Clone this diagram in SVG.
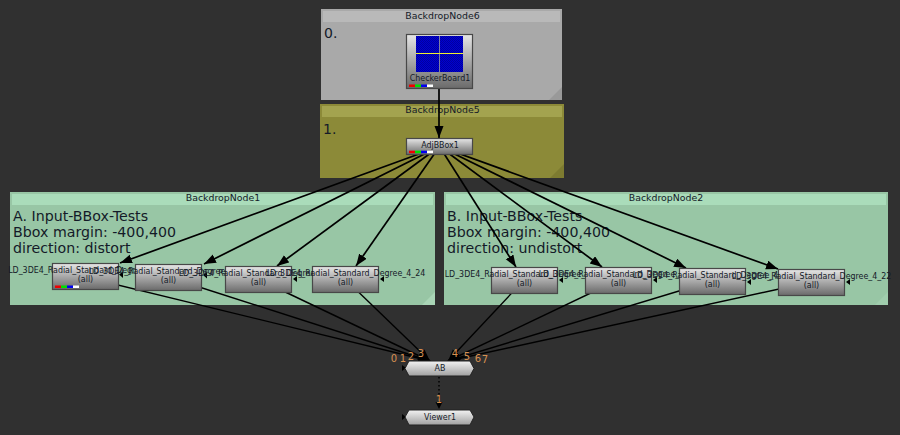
<svg xmlns="http://www.w3.org/2000/svg" width="900" height="435" viewBox="0 0 900 435">
<style>
text{font-family:"DejaVu Sans",sans-serif;fill:#141a28;text-anchor:middle}
.h{font-size:9.4px}
.t{font-family:"DejaVu Sans Condensed","DejaVu Sans",sans-serif;font-stretch:condensed;font-size:8.8px}
.b{font-size:14.2px;text-anchor:start}
.n{fill:url(#g);stroke:#484848;stroke-width:1.2}
.e{stroke:#000;stroke-width:1.7;fill:none;marker-end:url(#a)}
.o{stroke-width:1.4}
text.i{font-size:10px;fill:#d89050}
.m{fill:#000}
</style>
<defs>
<linearGradient id="g" x1="0" y1="0" x2="0" y2="1"><stop offset="0" stop-color="#e6e6e6"/><stop offset="1" stop-color="#6a6a6a"/></linearGradient>
<linearGradient id="v" x1="0" y1="0" x2="0" y2="1"><stop offset="0" stop-color="#f2f2f2"/><stop offset="1" stop-color="#a0a0a0"/></linearGradient>
<pattern id="c" width="2" height="2" patternUnits="userSpaceOnUse"><rect width="2" height="2" fill="#0000d0"/><rect width="1" height="1" fill="#0000a0"/><rect x="1" y="1" width="1" height="1" fill="#0000a0"/></pattern>
<marker id="a" markerUnits="userSpaceOnUse" markerWidth="13" markerHeight="10" refX="12" refY="4.500" orient="auto"><path d="M0 0L12 4.500L0 9Z" fill="#000"/></marker>
<g id="sw"><rect width="6" height="2.5" fill="#f00000"/><rect x="6" width="6" height="2.5" fill="#00e000"/><rect x="12" width="6" height="2.5" fill="#0000f0"/><rect x="18" width="6" height="2.5" fill="#fff"/></g>
</defs>
<rect width="900" height="435" fill="#303030"/>

<g id="BackdropNode6"><rect x="321" y="9" width="241" height="91" fill="#a9a9a9"/><rect x="323" y="11" width="237" height="11" fill="#b9b9b9"/><path d="M562 87V100H549Z" fill="#999"/><text class="h" x="442.500" y="18.500">BackdropNode6</text><text x="324" y="38" style="font-size:14px;text-anchor:start">0.</text></g>
<g id="BackdropNode5"><rect x="320" y="104" width="244" height="74" fill="#8c8a38"/><rect x="322" y="106" width="240" height="11" fill="#a3a34f"/><path d="M564 164V178H550Z" fill="#7d7b30"/><text class="h" x="442.500" y="113">BackdropNode5</text><text x="323" y="134" style="font-size:14px;text-anchor:start">1.</text></g>
<g id="BackdropNode1"><rect x="10" y="192" width="425" height="113" fill="#98c6a5"/><rect x="12" y="194" width="421" height="11" fill="#aadcba"/><path d="M435 292V305H422Z" fill="#a9d5b6"/><text class="h" x="223" y="201">BackdropNode1</text><text class="b" x="13" y="221">A. Input-BBox-Tests</text><text class="b" x="13" y="237">Bbox margin: -400,400</text><text class="b" x="13" y="253">direction: distort</text></g>
<g id="BackdropNode2"><rect x="444" y="192" width="444" height="113" fill="#98c6a5"/><rect x="446" y="194" width="440" height="11" fill="#aadcba"/><path d="M888 292V305H875Z" fill="#a0cdad"/><text class="h" x="666" y="201">BackdropNode2</text><text class="b" x="447" y="221">B. Input-BBox-Tests</text><text class="b" x="447" y="237">Bbox margin: -400,400</text><text class="b" x="447" y="253">direction: undistort</text></g>

<g id="connectors">
<path class="e" d="M439 89V138"/>
<path class="e" d="M439.500 146.500L120 263"/>
<path class="e" d="M439.500 146.500L204 264"/>
<path class="e" d="M439.500 146.500L277 266"/>
<path class="e" d="M439.500 146.500L356 266"/>
<path class="e" d="M439.500 146.500L516 267"/>
<path class="e" d="M439.500 146.500L602 267"/>
<path class="e" d="M439.500 146.500L686 268"/>
<path class="e" d="M439.500 146.500L778 269"/>
<path class="e o" d="M85 277L430 361"/>
<path class="e o" d="M168 277L430 361"/>
<path class="e o" d="M258 279L430 361"/>
<path class="e o" d="M345 279L430 361"/>
<path class="e o" d="M524 280L448 361"/>
<path class="e o" d="M618 280L448 361"/>
<path class="e o" d="M712 281L448 361"/>
<path class="e o" d="M811 282L448 361"/>
<path d="M439 377V405" stroke="#000" stroke-width="1.500" stroke-dasharray="1.500 2.500" fill="none"/>
<path class="m" d="M435.500 402H442.500L439 409Z"/>
<path class="m" d="M119 274.500L123 271.500V278Z"/>
<path class="m" d="M203 275L207 272V278.500Z"/>
<path class="m" d="M293 279L297 276V282Z"/>
<path class="m" d="M380 279L384 276V282Z"/>
<path class="m" d="M559 280L563 277V283Z"/>
<path class="m" d="M653 280L657 277V283Z"/>
<path class="m" d="M747 282L751 279V285Z"/>
<path class="m" d="M846 282L850 279V285Z"/>
<path class="m" d="M402 365L406 368L402 371Z"/>
<path class="m" d="M402 414L406 417L402 420Z"/>
</g>

<g id="CheckerBoard1"><rect class="n" x="406.500" y="34.500" width="66" height="54"/><rect x="416" y="36" width="47" height="36" fill="url(#c)"/><rect x="439" y="36" width="1" height="36" fill="#8080a0"/><rect x="416" y="53" width="47" height="1" fill="#f0f030"/><text class="t" x="440" y="80.500">CheckerBoard1</text><use href="#sw" x="409" y="84.500"/></g>
<g id="AdjBBox1"><rect class="n" x="406.500" y="138.500" width="66" height="16"/><text class="t" x="440" y="148">AdjBBox1</text><use href="#sw" x="409" y="150.700"/></g>

<g id="LD1"><rect class="n" x="52.500" y="263.500" width="66" height="26"/><text class="t" x="85.500" y="273">LD_3DE4_Radial_Standard_Degree_4_8</text><text class="t" x="85.500" y="282">(all)</text><use href="#sw" x="55" y="285.500"/></g>
<g id="LD2"><rect class="n" x="135.500" y="264.500" width="66" height="26"/><text class="t" x="168.500" y="274">LD_3DE4_Radial_Standard_Degree_4_12</text><text class="t" x="168.500" y="283">(all)</text></g>
<g id="LD3"><rect class="n" x="225.500" y="266.500" width="66" height="26"/><text class="t" x="258.500" y="276">LD_3DE4_Radial_Standard_Degree_4_18</text><text class="t" x="258.500" y="285">(all)</text></g>
<g id="LD4"><rect class="n" x="312.500" y="266.500" width="66" height="26"/><text class="t" x="345.500" y="276">LD_3DE4_Radial_Standard_Degree_4_24</text><text class="t" x="345.500" y="285">(all)</text></g>
<g id="LD5"><rect class="n" x="491.500" y="267.500" width="66" height="26"/><text class="t" x="524.500" y="277">LD_3DE4_Radial_Standard_Degree_4_12</text><text class="t" x="524.500" y="286">(all)</text></g>
<g id="LD6"><rect class="n" x="585.500" y="267.500" width="66" height="26"/><text class="t" x="618.500" y="277">LD_3DE4_Radial_Standard_Degree_4_18</text><text class="t" x="618.500" y="286">(all)</text></g>
<g id="LD7"><rect class="n" x="679.500" y="268.500" width="66" height="26"/><text class="t" x="712.500" y="278">LD_3DE4_Radial_Standard_Degree_4_20</text><text class="t" x="712.500" y="287">(all)</text></g>
<g id="LD8"><rect class="n" x="778.500" y="269.500" width="66" height="26"/><text class="t" x="811.500" y="279">LD_3DE4_Radial_Standard_Degree_4_22</text><text class="t" x="811.500" y="288">(all)</text></g>

<g id="AB"><path d="M409 361H470L474 368.500L470 376H409L405 368.500Z" fill="url(#v)" stroke="#222"/><text class="t" x="440" y="371">AB</text></g>
<g id="Viewer1"><path d="M409 410H470L474 417L470 425H409L405 417Z" fill="url(#v)" stroke="#222"/><text class="t" x="440" y="419.500">Viewer1</text></g>

<g id="inputs"><text class="i" x="394" y="362">0</text><text class="i" x="403" y="362">1</text><text class="i" x="411" y="360">2</text><text class="i" x="421" y="357">3</text><text class="i" x="455" y="357">4</text><text class="i" x="467" y="360">5</text><text class="i" x="478" y="362">6</text><text class="i" x="485" y="363">7</text><text class="i" x="439" y="403">1</text></g>
</svg>
